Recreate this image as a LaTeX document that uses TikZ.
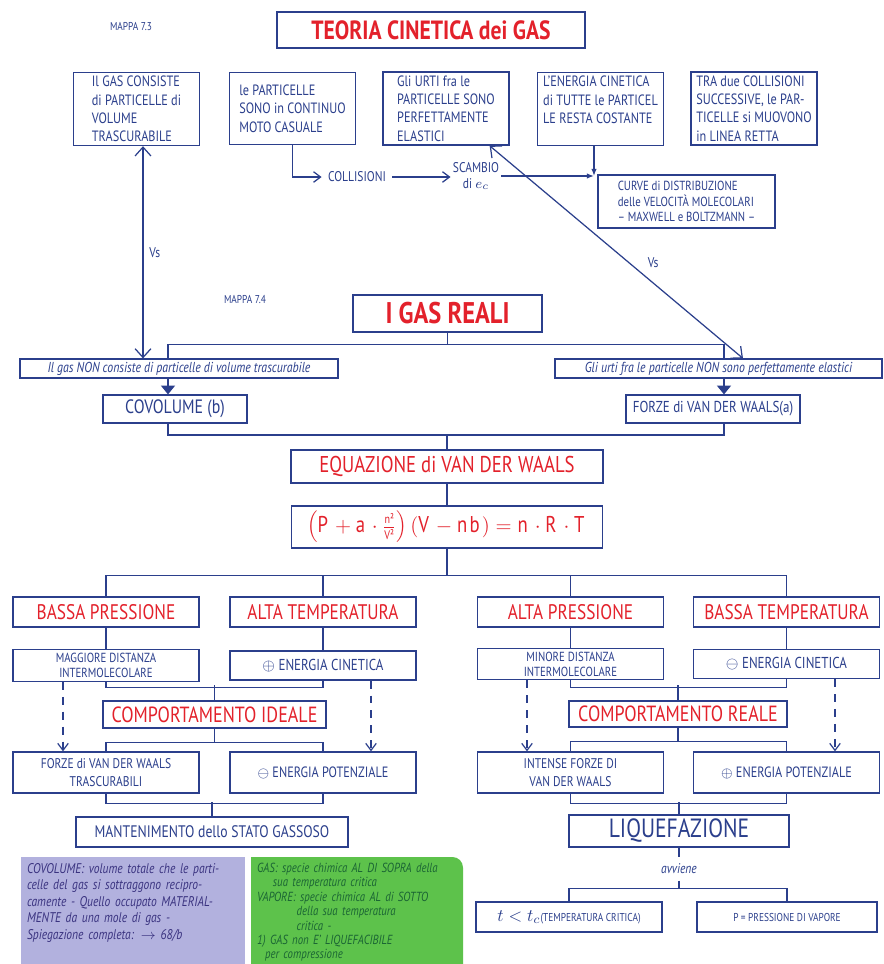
\documentclass[tikz,border=0pt]{standalone}
\usepackage{fontspec}
\setmainfont{PT Sans}[FakeStretch=0.82]
\usetikzlibrary{arrows.meta}

\definecolor{inchiostro}{HTML}{2B3F8C}
\definecolor{rosso}{HTML}{E3212B}
\definecolor{lilla}{HTML}{B2B1DE}
\definecolor{verde}{HTML}{5DC24B}
\definecolor{verdescuro}{HTML}{1B6534}
\definecolor{viola}{HTML}{3A3380}

\tikzset{
  sz/.style 2 args={minimum width=#1*0.02cm, minimum height=#2*0.02cm},
  box/.style={draw=inchiostro, inner sep=2pt, align=center},
  punto/.style={box, sz={126}{72}, align=left, font=\fontsize{8.5}{10.5}\selectfont},
  cond/.style={box, sz={186}{30}, text=rosso, font=\fontsize{12}{14}\selectfont},
  effetto/.style={box, sz={186}{29}, font=\fontsize{7.5}{8.5}\selectfont},
  esito/.style={box, sz={186}{41}, font=\fontsize{8}{10}\selectfont},
  tratto/.style={dash pattern=on 4.5pt off 4pt},
  piccolo/.style={font=\fontsize{6.5}{7}\selectfont},
}

\begin{document}
\begin{tikzpicture}[x=0.02cm, y=-0.02cm, color=inchiostro, line width=0.7pt,
  >={Straight Barb[length=4pt,width=6pt]}]
\fill[white] (0,0) rectangle (884,964);
\useasboundingbox (0,0) rectangle (884,964);

% Teoria cinetica
\node[piccolo] (mappaA) at (131,27) {MAPPA 7.3};
\node[box, sz={308}{36}, text=rosso, font=\bfseries\fontsize{15}{17}\selectfont] (teoria) at (431,30) {TEORIA CINETICA dei GAS};

\node[punto] (volume) at (136.5,109) {Il GAS CONSISTE\\di PARTICELLE di\\VOLUME\\TRASCURABILE};
\node[punto] (moto) at (292.5,108.5) {le PARTICELLE\\SONO in CONTINUO\\MOTO CASUALE};
\node[punto] (urti) at (446,108.5) {Gli URTI fra le\\PARTICELLE SONO\\PERFETTAMENTE\\ELASTICI};
\node[punto] (energia) at (600.5,109) {L'ENERGIA CINETICA\\di TUTTE le PARTICEL\\LE RESTA COSTANTE\\ \mbox{}};
\node[punto] (retta) at (754,108.5) {TRA due COLLISIONI\\SUCCESSIVE, le PAR-\\TICELLE si MUOVONO\\in LINEA RETTA};

\node[font=\fontsize{8}{9}\selectfont] (collisioni) at (357,177) {COLLISIONI};
\node[font=\fontsize{8}{9}\selectfont, align=center, inner sep=1pt] (scambio) at (476,176) {SCAMBIO\\di $e_c$};
\node[box, sz={177}{53}, align=left, font=\fontsize{7.5}{9}\selectfont] (curve) at (686.5,201.5) {CURVE di DISTRIBUZIONE\\delle VELOCITÀ MOLECOLARI\\ -- MAXWELL e BOLTZMANN --};
\coordinate (punta) at (594,176);

\draw[->] (moto.south) |- (collisioni.west);
\draw[->] (collisioni.east) -- (scambio.west |- collisioni.east);
\draw[-{Latex[length=4pt]}] (scambio.east) -- (punta);
\draw[-{Latex[length=4pt]}] (energia.south -| punta) -- (punta);

% I gas reali
\node[piccolo] (mappaB) at (245,300) {MAPPA 7.4};
\node[box, sz={189}{37}, text=rosso, font=\bfseries\fontsize{17}{19}\selectfont] (reali) at (447.5,313.5) {I GAS REALI};
\node[box, sz={318}{19}, inner sep=1pt, font=\itshape\fontsize{8.2}{9}\selectfont] (nonVol) at (179,368.5) {Il gas NON consiste di particelle di volume trascurabile};
\node[box, sz={327}{19}, inner sep=1pt, font=\itshape\fontsize{8.2}{9}\selectfont] (nonEl) at (718.5,368.5) {Gli urti fra le particelle NON sono perfettamente elastici};
\node[box, sz={144}{28}, font=\fontsize{11}{12}\selectfont] (covol) at (175,409) {COVOLUME (b)};
\node[box, sz={174}{28}, font=\fontsize{9}{10}\selectfont] (forze) at (713,409) {FORZE di VAN DER WAALS(a)};

% Vs
\coordinate (vsL) at (143,0);
\draw[{Straight Barb[length=5pt,width=9pt]}-{Straight Barb[length=5pt,width=9pt]}] (volume.south -| vsL) -- node[right, font=\fontsize{8}{9}\selectfont] (vs1) {Vs} (nonVol.north -| vsL);
\draw[{Straight Barb[length=5pt,width=9pt]}-{Straight Barb[length=5pt,width=9pt]}] ([xshift=-0.4cm]urti.south east) -- node[pos=0.55, right=7pt, font=\fontsize{8}{9}\selectfont] (vs2) {Vs} ([xshift=0.49cm]nonEl.north);

\coordinate (axL) at (168,0);
\coordinate (axR) at (724,0);
\coordinate (g2) at (447,435);
\draw (reali.south) -- ++(0,12) coordinate (g1);
\draw (nonVol.north -| axL) |- (g1) -| (nonEl.north -| axR);
\draw[-{Triangle[length=5pt,width=8pt]}] (nonVol.south -| axL) -- (covol.north -| axL);
\draw[-{Triangle[length=5pt,width=8pt]}] (nonEl.south -| axR) -- (forze.north -| axR);
\draw (covol.south -| axL) |- (g2) -| (forze.south -| axR);

% Equazione
\node[box, sz={312}{33}, text=rosso, font=\fontsize{13}{15}\selectfont] (eqVdw) at (447,466.5) {EQUAZIONE di VAN DER WAALS};
\node[box, sz={311}{42}, text=rosso, font=\fontsize{13}{15}\selectfont] (formula) at (447,527) {$\left(\mathrm{P}+\mathrm{a}\cdot\frac{\mbox{\scriptsize n²}}{\mbox{\scriptsize V²}}\right)\left(\mathrm{V}-\mathrm{nb}\right)=\mathrm{n}\cdot\mathrm{R}\cdot\mathrm{T}$};
\draw (g2) -- (eqVdw.north);
\draw (eqVdw) -- (formula);
\draw (formula.south) -- ++(0,27) coordinate (g3);

% Condizioni
\node[cond] (bassaP) at (106,612) {BASSA PRESSIONE};
\node[cond] (altaT) at (323,612) {ALTA TEMPERATURA};
\node[cond] (altaP) at (570.5,612) {ALTA PRESSIONE};
\node[cond] (bassaT) at (786.5,612) {BASSA TEMPERATURA};
\draw (bassaP.north) |- (g3) -| (bassaT.north);
\draw (altaT.north) -- (altaT.north |- g3);
\draw (altaP.north) -- (altaP.north |- g3);

\node[effetto] (maggiore) at (106,665.5) {MAGGIORE DISTANZA\\INTERMOLECOLARE};
\node[effetto, font=\fontsize{9}{10}\selectfont] (piuEc) at (323,665.5) {$\oplus$ ENERGIA CINETICA};
\node[effetto] (minore) at (570.5,664) {MINORE DISTANZA\\INTERMOLECOLARE};
\node[effetto, font=\fontsize{9}{10}\selectfont] (menoEc) at (786.5,664) {$\ominus$ ENERGIA CINETICA};
\draw (bassaP) -- (maggiore);
\draw (altaT) -- (piuEc);
\draw (altaP) -- (minore);
\draw (bassaT) -- (menoEc);

% Comportamento
\node[box, sz={223}{27}, text=rosso, font=\fontsize{12.5}{14}\selectfont] (ideale) at (214.5,714.5) {COMPORTAMENTO IDEALE};
\node[box, sz={218}{26}, text=rosso, font=\fontsize{12.5}{14}\selectfont] (reale) at (678,714) {COMPORTAMENTO REALE};
\draw (maggiore.south) -- ++(0,6) -| (piuEc.south);
\draw (ideale.north) -- ++(0,-15);
\draw (minore.south) -- ++(0,7) -| (menoEc.south);
\draw (reale.north) -- ++(0,-15);

\node[esito] (trascur) at (106,772.5) {FORZE di VAN DER WAALS\\TRASCURABILI};
\node[esito, font=\fontsize{8.5}{10}\selectfont] (menoEp) at (323,772.5) {$\ominus$ ENERGIA POTENZIALE};
\node[esito] (intense) at (570.5,772.5) {INTENSE FORZE DI\\VAN DER WAALS};
\node[esito, font=\fontsize{8.5}{10}\selectfont] (piuEp) at (786.5,772.5) {$\oplus$ ENERGIA POTENZIALE};
\draw (ideale.south) -- ++(0,14) coordinate (g5);
\draw (trascur.north) |- (g5) -| (menoEp.north);
\draw (reale.south) -- ++(0,14) coordinate (g6);
\draw (intense.north) |- (g6) -| (piuEp.north);

% Frecce tratteggiate
\coordinate (d1) at (63,0);
\coordinate (d2) at (371,0);
\coordinate (d3) at (527,0);
\coordinate (d4) at (835,0);
\draw[tratto, ->] (maggiore.south -| d1) -- (trascur.north -| d1);
\draw[tratto, ->] (piuEc.south -| d2) -- (menoEp.north -| d2);
\draw[tratto, ->] (minore.south -| d3) -- (intense.north -| d3);
\draw[tratto, ->] (menoEc.south -| d4) -- (piuEp.north -| d4);

% Esiti
\node[box, sz={272}{30}, font=\fontsize{9.5}{11}\selectfont] (mantenimento) at (212,832) {MANTENIMENTO dello STATO GASSOSO};
\node[box, sz={220}{32}, font=\fontsize{15}{17}\selectfont] (liquef) at (679,831) {LIQUEFAZIONE};
\draw (trascur.south) -- ++(0,10) -| (menoEp.south);
\draw (mantenimento.north) -- ++(0,-14);
\draw (intense.south) -- ++(0,10) -| (piuEp.south);
\draw (liquef.north) -- ++(0,-12);

\node[font=\itshape\fontsize{8}{9}\selectfont] (avviene) at (679,869) {avviene};
\node[box, sz={186}{30}, font=\fontsize{6.5}{8}\selectfont] (tc) at (569,917) {{\fontsize{10}{11}\selectfont $t<t_c$}(TEMPERATURA CRITICA)};
\node[box, sz={180}{30}, font=\fontsize{6.5}{8}\selectfont] (pv) at (787,917) {P = PRESSIONE DI VAPORE};
\draw (liquef.south) -- (avviene.north);
\draw (avviene.south) -- ++(0,8) coordinate (g7);
\draw (tc.north) |- (g7) -| (pv.north);

% Note
\fill[lilla] (21,857) rectangle (245,964);
\node[anchor=north west, text=viola, align=left, text width=4.4cm, inner sep=2pt, font=\itshape\fontsize{8}{9.4}\selectfont] (nota1) at (23,859) {COVOLUME: volume totale che le parti-\\celle del gas si sottraggono recipro-\\camente - Quello occupato MATERIAL-\\MENTE da una mole di gas -\\Spiegazione completa: $\rightarrow$ 68/b};
\fill[verde] (251,964) -- (251,857) [rounded corners=6pt] -- (463,857) [sharp corners] -- (463,964) -- cycle;
\node[anchor=north west, text=verdescuro, align=left, text width=4.2cm, inner sep=2pt, font=\itshape\fontsize{7.5}{8.2}\selectfont] (nota2) at (253,859) {GAS: specie chimica AL DI SOPRA della\\\hspace*{1.2em}sua temperatura critica\\VAPORE: specie chimica AL di SOTTO\\\hspace*{3em}della sua temperatura\\\hspace*{3em}critica -\\1) GAS non E' LIQUEFACIBILE\\\hspace*{0.6em}per compressione};
\end{tikzpicture}
\end{document}
